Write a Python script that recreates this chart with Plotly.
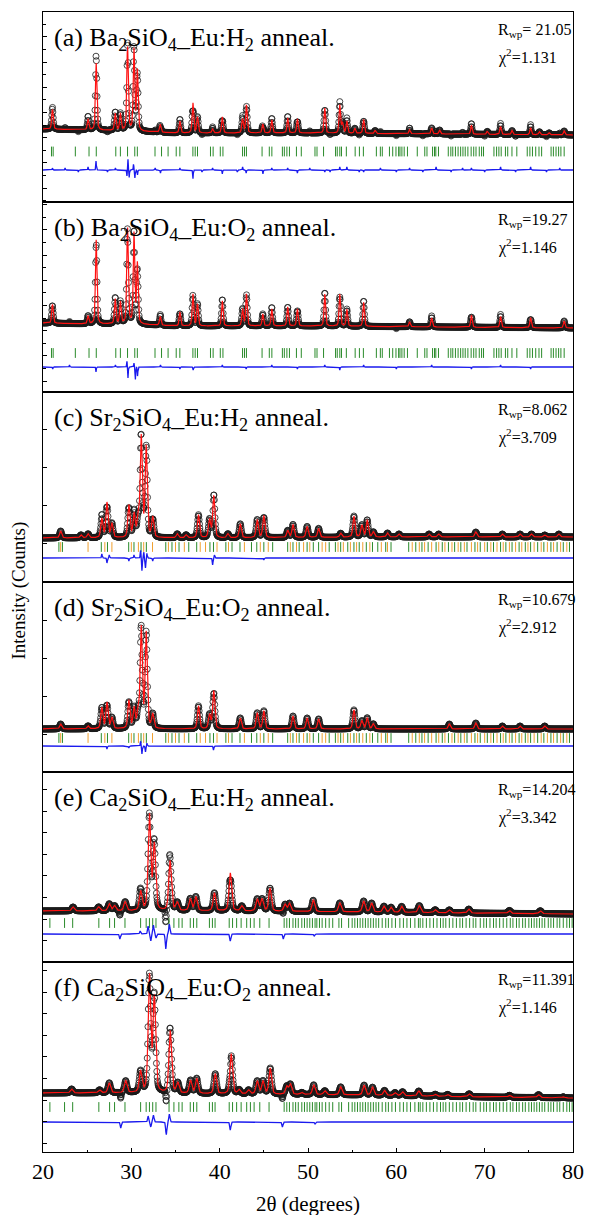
import numpy as np
import plotly.graph_objects as go
from plotly.subplots import make_subplots

# ---------------- scan grid (2theta, degrees) ----------------
two_theta = np.round(np.arange(20.0, 80.0001, 0.02), 3)

# ---------------- Panel (a) Ba2SiO4:Eu H2 ----------------
a_peak_pos = [21.07, 25.1, 26.02, 28.17, 28.76, 29.57, 30.3, 30.68, 33.27, 35.5, 36.97, 37.49, 39.2, 40.3,
              42.59, 43.03, 44.88, 45.9, 47.7, 48.8, 51.9, 53.6, 53.9, 54.4, 55.3, 56.3, 57.6, 61.5, 64.0,
              64.9, 68.5, 70.3, 71.8, 73.1, 75.2, 76.2, 77.3, 79.0]
a_peak_int = [20, 11, 67, 17, 17, 84, 81, 60, 8, 12, 30, 16, 4, 16, 14, 28, 9, 13, 15, 14, 25, 28, 10, 12,
              5, 14, 3, 4, 6, 4, 9, 3, 8, 4, 7, 3, 2, 4]
a_bg_pos = [20, 25, 30, 35, 50, 65, 80]
a_bg_int = [4, 3, 2, 0, 0, -1, -2]
a_diff_pos = [21.07, 22.5, 24.0, 25.1, 26.0, 27.3, 28.2, 29.5, 29.62, 29.75, 30.25, 30.4, 30.7, 32.7, 33.3,
              35.5, 36.97, 38.0, 39.2, 40.3, 42.0, 42.6, 43.0, 44.9, 45.9, 47.7, 48.8, 50.2, 51.9, 52.5,
              53.6, 54.4, 55.8, 56.3, 58.2, 60.0, 61.5, 63.0, 64.5, 66.2, 67.5, 68.5, 70.0, 71.8, 73.5,
              75.2, 77.0, 78.5]
a_diff_amp = [2, 2, -2, 3, 9, -2, 2, -6, 11, -8, 6, -8, -5, 2, -3, 2, -9, -2, 2, -4, -2, 3, -3, -4, 2, 2,
              -3, 2, -2, -2, 3, 3, -2, -2, 2, -2, 2, -2, 3, -2, 2, 2, -2, 3, -2, 3, -2, 2]
a_bragg = [20.96, 21.15, 23.66, 25.21, 26.03, 28.24, 28.76, 29.57, 30.39, 30.68, 32.68, 33.42, 34.16, 35.08,
           35.49, 36.97, 37.23, 37.49, 38.96, 39.26, 40.07, 40.37, 42.59, 42.81, 43.03, 44.8, 45.62, 45.91,
           47.1, 47.32, 47.61, 47.9, 48.69, 49.24, 50.79, 51.02, 51.76, 53.12, 53.31, 53.6, 53.79, 54.34,
           55.34, 55.82, 56.27, 57.74, 58.19, 58.41, 59.22, 59.59, 59.96, 60.26, 60.41, 60.63, 60.89, 61.26,
           62.37, 63.22, 63.47, 64.1, 64.32, 64.47, 64.77, 65.88, 66.17, 66.39, 66.69, 66.99, 67.28, 67.54,
           67.8, 68.1, 68.47, 68.76, 69.02, 69.39, 69.65, 69.87, 71.05, 71.35, 71.61, 71.87, 72.35, 72.61,
           73.09, 73.64, 74.82, 75.12, 75.41, 75.78, 76.15, 76.45, 77.52, 77.78, 78.08, 78.37, 78.63, 79.0]

# ---------------- Panel (b) Ba2SiO4:Eu O2 ----------------
b_peak_pos = [21.07, 25.1, 26.02, 28.17, 28.76, 29.57, 30.3, 30.68, 33.27, 35.5, 36.97, 37.49, 40.3,
              42.59, 43.03, 44.88, 45.9, 47.7, 48.8, 51.9, 53.6, 54.4, 56.3, 61.5, 64.0, 68.5, 71.8, 75.2, 79.0]
b_peak_int = [19, 8, 84, 25, 22, 96, 90, 60, 9, 14, 32, 22, 25, 17, 32, 12, 17, 19, 17, 32, 32, 17, 24,
              5, 9, 12, 11, 10, 7]
b_bg_pos = [20, 25, 30, 35, 50, 65, 80]
b_bg_int = [3, 2, 2, 0, 0, -1, -2]
b_diff_pos = [21.1, 23.0, 26.0, 28.2, 29.5, 29.62, 30.3, 30.45, 30.7, 33.3, 35.5, 37.0, 40.3, 43.0, 45.9,
              48.8, 51.9, 53.6, 56.3, 60.0, 64.0, 68.5, 71.8, 75.2]
b_diff_amp = [-2, 2, -5, 2, 6, -11, 4, -13, -9, 2, -2, -3, 2, -2, 2, -2, 2, -3, 2, -2, 2, -2, 2, -2]
b_bragg = a_bragg

# ---------------- Panel (c) Sr2SiO4:Eu H2 ----------------
c_peak_pos = [22.0, 24.3, 25.1, 26.66, 27.24, 27.8, 29.72, 30.31, 30.76, 31.12, 31.68, 32.42, 35.2, 36.2,
              37.6, 38.85, 39.33, 40.93, 42.33, 44.25, 45.0, 47.7, 48.3, 49.9, 51.2, 53.7, 55.2, 56.1, 56.7,
              57.4, 59.0, 60.3, 63.7, 64.8, 69.0, 72.0, 74.0, 75.3, 76.8, 78.4]
c_peak_int = [7, 3, 4, 19, 35, 14, 32, 23, 16, 100, 90, 20, 4, 3, 23, 18, 42, 4, 14, 18, 22, 7, 13, 11, 9,
              4, 21, 12, 17, 5, 4, 3, 3, 3, 5, 3, 3, 3, 2, 3]
c_bg_pos = [20, 30, 40, 60, 80]
c_bg_int = [0, 0, 0, 1, 1]
c_diff_pos = [26.66, 27.24, 27.5, 29.72, 30.3, 31.05, 31.2, 31.4, 31.6, 31.75, 32.42, 39.2, 39.4, 45.0]
c_diff_amp = [4, -5, 3, -3, 3, 8, -13, 6, -10, 5, -3, -7, 3, -2]

# two-phase Bragg markers for the Sr2SiO4 samples
sr_bragg_green = [21.8, 22.2, 26.6, 27.3, 29.7, 30.3, 31.1, 31.7, 33.9, 34.6, 35.4, 36.5, 37.4, 38.9,
                  39.3, 40.7, 41.4, 42.3, 43.6, 44.2, 45.0, 46.0, 47.7, 48.3, 49.0, 49.9, 50.6, 51.2, 52.4,
                  53.1, 53.7, 54.5, 55.2, 55.8, 56.6, 57.3, 57.9, 58.8, 59.4, 61.4, 62.2, 62.9, 63.6,
                  64.5, 65.2, 65.9, 66.6, 67.3, 68.0, 68.9, 69.5, 70.3, 71.0, 71.8, 72.4, 73.1, 73.9, 74.6,
                  75.2, 76.0, 76.7, 77.5, 78.2, 78.9, 79.6]
sr_bragg_orange = [22.0, 25.1, 27.0, 27.8, 30.0, 30.8, 31.4, 32.4, 34.2, 35.0, 36.0, 37.8, 38.4, 39.7,
                   41.0, 42.8, 44.6, 45.5, 48.0, 48.7, 49.5, 50.2, 51.6, 52.0, 53.4, 54.0, 54.8, 55.5, 56.2,
                   57.0, 58.3, 59.0, 61.8, 62.6, 63.2, 64.0, 64.8, 65.5, 66.3, 67.0, 67.7, 68.5, 69.2, 70.0,
                   70.7, 71.4, 72.1, 72.8, 73.5, 74.2, 74.9, 75.6, 76.4, 77.1, 77.8, 78.6, 79.3]

# ---------------- Panel (d) Sr2SiO4:Eu O2 ----------------
d_peak_pos = [22.0, 25.1, 26.66, 27.24, 27.8, 29.72, 30.31, 30.76, 31.12, 31.68, 32.42, 37.6, 38.85, 39.33,
              42.33, 44.25, 45.0, 48.3, 49.9, 51.2, 55.2, 56.1, 56.7, 57.4, 66.0, 69.0, 72.0, 74.0, 76.8]
d_peak_int = [5, 3, 21, 26, 11, 28, 20, 14, 100, 95, 14, 23, 14, 38, 11, 16, 18, 13, 11, 10, 19, 8, 11,
              5, 5, 6, 3, 3, 3]
d_bg_pos = [20, 30, 40, 60, 80]
d_bg_int = [0, 0, 0, 0, 0]
d_diff_pos = [27.24, 29.72, 31.05, 31.2, 31.6, 31.75, 39.3]
d_diff_amp = [-3, -2, 5, -8, -6, 3, -4]

# ---------------- Panel (e) Ca2SiO4:Eu H2 ----------------
e_peak_pos = [23.4, 26.3, 27.5, 28.1, 29.3, 31.05, 32.05, 32.6, 34.38, 35.2, 36.67, 37.3, 39.4, 41.2, 42.5,
              44.25, 44.8, 45.7, 47.4, 47.9, 50.6, 53.6, 56.3, 57.2, 58.6, 59.4, 60.6, 62.6, 64.4, 66.0,
              68.2, 72.8, 76.3]
e_peak_int = [4, 4, 7, 5, 9, 19, 95, 65, 50, 8, 12, 14, 18, 38, 5, 12, 12, 23, 7, 8, 12, 9, 11, 9, 6, 5, 6,
              7, 3, 3, 4, 3, 3]
e_bg_pos = [20, 30, 40, 55, 80]
e_bg_int = [0, 0, 0, -1, -3]
e_diff_pos = [28.7, 31.0, 31.9, 32.2, 32.5, 32.8, 33.9, 34.3, 41.2, 47.2, 50.7]
e_diff_amp = [-5, 3, 8, -7, 9, -4, -15, 10, -7, -5, -2]
ca_bragg = [20.78, 22.44, 23.36, 26.32, 27.54, 28.1, 29.28, 31.05, 31.68, 32.05, 32.42, 32.79, 34.27, 34.82,
            35.38, 35.75, 36.67, 37.04, 37.41, 38.84, 39.18, 39.48, 41.08, 41.46, 41.92, 42.43, 43.06, 43.48,
            43.9, 44.54, 45.59, 47.3, 47.6, 47.9, 48.3, 48.6, 48.9, 49.3, 49.6, 49.9, 50.2, 50.5, 50.8, 51.0,
            51.3, 51.6, 52.0, 52.4, 52.8, 53.5, 53.8, 54.6, 55.0, 55.3, 55.6, 55.9, 56.2, 56.5, 56.8, 57.1,
            57.4, 57.7, 58.0, 58.4, 58.8, 59.1, 59.5, 59.9, 60.4, 60.8, 61.2, 61.6, 62.1, 62.5, 62.7, 63.0,
            63.4, 63.8, 64.2, 64.6, 65.0, 65.3, 65.6, 66.0, 66.4, 66.8, 67.2, 67.5, 67.9, 68.3, 68.7, 69.0,
            69.5, 69.9, 70.2, 70.6, 71.0, 71.3, 71.7, 72.1, 72.5, 72.9, 73.2, 73.6, 73.9, 74.3, 74.6, 75.0,
            75.3, 75.6, 75.9, 76.2, 76.5, 76.8, 77.2, 77.5, 77.8, 78.2, 78.5, 78.9, 79.3, 79.6, 79.9]

# ---------------- Panel (f) Ca2SiO4:Eu O2 ----------------
f_peak_pos = [23.24, 26.4, 27.5, 29.36, 31.04, 32.05, 32.6, 34.4, 35.26, 36.7, 37.4, 39.5, 41.3, 42.2, 43.27,
              44.25, 44.9, 45.72, 47.6, 48.0, 49.3, 50.65, 51.9, 53.7, 56.35, 57.3, 58.66, 59.85, 60.7, 62.54,
              64.4, 65.8, 68.25, 72.8, 76.1, 78.9]
f_peak_int = [4, 3, 10, 12, 21, 116, 94, 62, 10, 13, 15, 20, 40, 4, 4, 13, 13, 26, 8, 10, 2, 10, 4, 8, 10,
              8, 5, 3, 4, 5, 2, 2, 3, 2, 3, 1]
f_bg_pos = [20, 30, 40, 55, 70, 80]
f_bg_int = [1, 1, 0, -1, -3, -4]
f_diff_pos = [28.8, 31.9, 32.2, 32.5, 33.95, 34.3, 41.2, 47.1, 50.8]
f_diff_amp = [-6, 6, -5, 7, -13, 8, -8, -5, -2]

# ---------------- texts ----------------
panel_titles = ["(a) Ba<sub>2</sub>SiO<sub>4</sub>_Eu:H<sub>2</sub> anneal.",
                "(b) Ba<sub>2</sub>SiO<sub>4</sub>_Eu:O<sub>2</sub> anneal.",
                "(c) Sr<sub>2</sub>SiO<sub>4</sub>_Eu:H<sub>2</sub> anneal.",
                "(d) Sr<sub>2</sub>SiO<sub>4</sub>_Eu:O<sub>2</sub> anneal.",
                "(e) Ca<sub>2</sub>SiO<sub>4</sub>_Eu:H<sub>2</sub> anneal.",
                "(f) Ca<sub>2</sub>SiO<sub>4</sub>_Eu:O<sub>2</sub> anneal."]
rwp_values = ["21.05", "19.27", "8.062", "10.679", "14.204", "11.391"]
rwp_sep = ["= ", "=", "=", "=", "=", "="]
chi2_values = ["1.131", "1.146", "3.709", "2.912", "3.342", "1.146"]
x_ticks = [20, 30, 40, 50, 60, 70, 80]

# ---------------- helpers ----------------
def profile(x, pos, inten, fwhm, eta=0.45):
    y = np.zeros_like(x)
    for p, h in zip(pos, inten):
        u = (x - p) / fwhm
        y += h * (eta / (1 + 4 * u * u) + (1 - eta) * np.exp(-4 * np.log(2) * u * u))
    return y

GREEN = "#2a8a2a"
ORANGE = "#f0a030"
panels = [
    dict(pos=a_peak_pos, inten=a_peak_int, bgp=a_bg_pos, bgi=a_bg_int, dp=a_diff_pos, da=a_diff_amp,
         fw=0.2, dw=0.08, bragg=[(a_bragg, GREEN)], rng=[-69, 121], bragg_y=-18.5, diff_y=-37,
         tick0=-4.7, dtick=25.2, minor=12.6),
    dict(pos=b_peak_pos, inten=b_peak_int, bgp=b_bg_pos, bgi=b_bg_int, dp=b_diff_pos, da=b_diff_amp,
         fw=0.2, dw=0.08, bragg=[(b_bragg, GREEN)], rng=[-66, 124], bragg_y=-27, diff_y=-41,
         tick0=-4.7, dtick=25.2, minor=12.6),
    dict(pos=c_peak_pos, inten=c_peak_int, bgp=c_bg_pos, bgi=c_bg_int, dp=c_diff_pos, da=c_diff_amp,
         fw=0.28, dw=0.1, bragg=[(sr_bragg_green, GREEN), (sr_bragg_orange, ORANGE)],
         rng=[-44, 146], bragg_y=-9, diff_y=-20, tick0=-5, dtick=38, minor=None),
    dict(pos=d_peak_pos, inten=d_peak_int, bgp=d_bg_pos, bgi=d_bg_int, dp=d_diff_pos, da=d_diff_amp,
         fw=0.28, dw=0.1, bragg=[(sr_bragg_green, GREEN), (sr_bragg_orange, ORANGE)],
         rng=[-43, 147], bragg_y=-9, diff_y=-17, tick0=-5, dtick=38, minor=None),
    dict(pos=e_peak_pos, inten=e_peak_int, bgp=e_bg_pos, bgi=e_bg_int, dp=e_diff_pos, da=e_diff_amp,
         fw=0.34, dw=0.15, bragg=[(ca_bragg, GREEN)], rng=[-51, 139], bragg_y=-12, diff_y=-23,
         tick0=-8, dtick=21.6, minor=None),
    dict(pos=f_peak_pos, inten=f_peak_int, bgp=f_bg_pos, bgi=f_bg_int, dp=f_diff_pos, da=f_diff_amp,
         fw=0.34, dw=0.15, bragg=[(ca_bragg, GREEN)], rng=[-58, 132], bragg_y=-13, diff_y=-28,
         tick0=-6, dtick=21.6, minor=None),
]

FONT = "Liberation Serif, Times New Roman, Times, serif"

fig = make_subplots(rows=6, cols=1, shared_xaxes=True, vertical_spacing=0)

for i, p in enumerate(panels):
    row = i + 1
    bg = np.interp(two_theta, p["bgp"], p["bgi"])
    calc = bg + profile(two_theta, p["pos"], p["inten"], p["fw"])
    diff = profile(two_theta, p["dp"], p["da"], p["dw"], eta=0.2)
    obs = calc + diff
    step = 2
    fig.add_trace(go.Scatter(x=two_theta[::step], y=obs[::step], mode="markers",
                             marker=dict(symbol="circle-open", size=6, color="#1a1a1a",
                                         line=dict(width=0.8, color="#1a1a1a")),
                             showlegend=False, hoverinfo="skip"), row=row, col=1)
    fig.add_trace(go.Scatter(x=two_theta, y=calc, mode="lines", line=dict(color="#ff1010", width=1.2),
                             showlegend=False, hoverinfo="skip"), row=row, col=1)
    for positions, col in p["bragg"]:
        fig.add_trace(go.Scatter(x=positions, y=[p["bragg_y"]] * len(positions), mode="markers",
                                 marker=dict(symbol="line-ns", size=7, color=col, line=dict(width=1, color=col)),
                                 showlegend=False, hoverinfo="skip"), row=row, col=1)
    fig.add_trace(go.Scatter(x=two_theta, y=diff + p["diff_y"], mode="lines",
                             line=dict(color="#1a1aee", width=1.3), showlegend=False, hoverinfo="skip"),
                  row=row, col=1)
    yk = dict(range=p["rng"], showline=True, linecolor="black", linewidth=1, mirror=True,
              ticks="inside", ticklen=4, tickcolor="black", showticklabels=False, showgrid=False,
              zeroline=False, tick0=p["tick0"], dtick=p["dtick"])
    if p["minor"]:
        yk["minor"] = dict(ticks="inside", ticklen=2.5, dtick=p["minor"], tick0=p["tick0"], tickcolor="black")
    fig.update_yaxes(row=row, col=1, **yk)

fig.update_xaxes(range=[20, 80], showline=True, linecolor="black", linewidth=1, mirror=True,
                 showgrid=False, zeroline=False)
for r in range(1, 6):
    fig.update_xaxes(row=r, col=1, ticks="", showticklabels=False)
fig.update_xaxes(row=6, col=1, tickvals=x_ticks, ticktext=[str(v) for v in x_ticks], showticklabels=True,
                 ticks="inside", ticklen=4, tickcolor="black",
                 minor=dict(ticks="inside", ticklen=2.5, dtick=5, tickcolor="black"),
                 tickfont=dict(family=FONT, size=22, color="black"))

H = 1140.0
annotations = []
for i in range(6):
    top = 1.0 - i / 6.0
    annotations.append(dict(text=panel_titles[i], x=0.0166, y=top - 9 / H, xref="paper", yref="paper",
                            xanchor="left", yanchor="top", showarrow=False,
                            font=dict(family=FONT, size=26, color="black")))
    annotations.append(dict(text="R<sub>wp</sub>" + rwp_sep[i] + rwp_values[i], x=(505 - 43) / 541.0,
                            y=top - 7 / H, xref="paper", yref="paper", xanchor="left", yanchor="top",
                            showarrow=False, font=dict(family=FONT, size=16, color="black")))
    annotations.append(dict(text="χ<sup>2</sup>=" + chi2_values[i], x=(505 - 43) / 541.0,
                            y=top - 32 / H, xref="paper", yref="paper", xanchor="left", yanchor="top",
                            showarrow=False, font=dict(family=FONT, size=16, color="black")))
annotations.append(dict(text="Intensity (Counts)", x=-24 / 541.0, y=(1152 - 590) / H, xref="paper",
                        yref="paper", textangle=-90, showarrow=False, xanchor="center", yanchor="middle",
                        font=dict(family=FONT, size=19, color="black")))
annotations.append(dict(text="2θ (degrees)", x=0.5, y=-(1204 - 1152) / H, xref="paper", yref="paper",
                        showarrow=False, xanchor="center", yanchor="middle",
                        font=dict(family=FONT, size=21, color="black")))

fig.update_layout(width=595, height=1215, margin=dict(l=43, r=11, t=12, b=63),
                  paper_bgcolor="white", plot_bgcolor="white", annotations=annotations,
                  showlegend=False, font=dict(family=FONT, color="black"))

fig.write_html("out.html")
